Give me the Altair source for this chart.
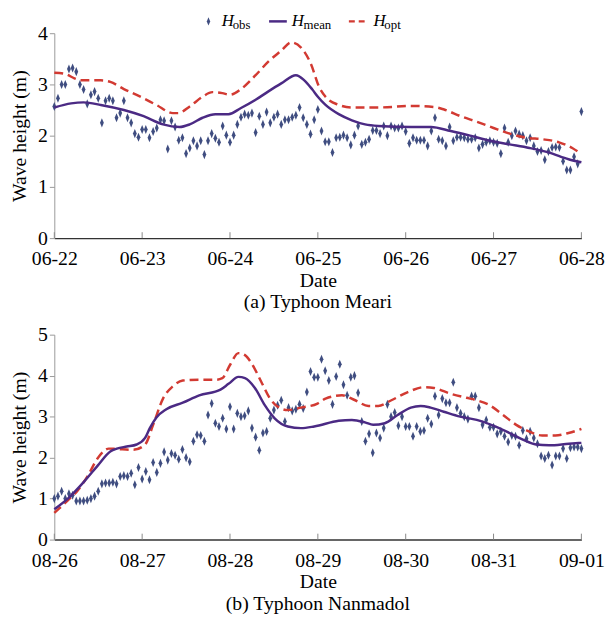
import altair as alt
import pandas as pd

FONT = "Liberation Serif"

labels_a = ["06-22", "06-23", "06-24", "06-25", "06-26", "06-27", "06-28"]
labels_b = ["08-26", "08-27", "08-28", "08-29", "08-30", "08-31", "09-01"]
tick_hours = [0, 24, 48, 72, 96, 120, 144]

# ---- (a) Typhoon Meari : hourly observations, hours 0..144 ----
meari_obs = [
    2.57, 2.73, 3.0, 3.0, 3.3, 3.32, 3.25, 3.0, 2.9, 2.62,
    2.8, 2.86, 2.73, 2.25, 2.68, 2.73, 2.68, 2.35, 2.44, 2.68,
    2.35, 2.25, 2.04, 1.97, 2.12, 2.12, 1.96, 2.08, 2.15, 2.31,
    2.29, 1.74, 2.29, 2.17, 1.91, 1.96, 1.65, 1.76, 1.9, 1.8,
    1.9, 1.63, 1.9, 2.04, 1.95, 1.87, 2.19, 2.01, 1.87, 2.01,
    2.22, 2.36, 2.42, 2.4, 2.44, 2.06, 2.38, 2.22, 2.46, 2.25,
    2.36, 2.42, 2.22, 2.31, 2.31, 2.36, 2.4, 2.55, 2.35, 2.22,
    2.03, 2.31,
    2.51, 2.09, 1.88, 1.88, 1.67, 1.96, 1.97, 2.01, 1.96, 1.82,
    2.01, 2.19, 1.83, 1.87, 1.93, 2.1, 2.1, 2.04, 2.19, 2.0,
    2.19, 2.15, 2.15, 2.19, 2.08, 1.85, 1.96, 1.91, 1.91, 1.91,
    1.8, 2.09, 2.35, 1.93, 1.9, 1.8, 2.17, 1.9, 1.97, 1.97,
    1.96, 1.93, 1.93, 1.96, 1.76, 1.83, 1.87, 1.9, 1.87, 1.85,
    1.65, 2.15, 1.87, 2.0, 2.09, 2.03, 2.0, 1.9, 1.96, 1.8,
    1.69, 1.71, 1.53, 1.69, 1.77, 1.78, 1.77, 1.5, 1.33, 1.33,
    1.59, 1.45, 2.47,
]
meari_mean_h = [0, 4.6, 8, 12.7, 19, 24.4, 29.7, 34.2, 37, 40.5, 44, 47.6, 51, 55,
                58.4, 62, 66, 68.3, 70.5, 72, 74.1, 77.7, 81.3, 84.9, 88.5, 97.5,
                102.9, 108.3, 113.6, 119, 124.4, 129.8, 135.2, 140.5, 144]
meari_mean_v = [2.55, 2.63, 2.65, 2.6, 2.5, 2.38, 2.22, 2.17, 2.22, 2.35, 2.42, 2.42,
                2.54, 2.7, 2.86, 3.02, 3.18, 3.08, 2.9, 2.76, 2.6, 2.42, 2.3, 2.22,
                2.19, 2.17, 2.17, 2.09, 2.0, 1.9, 1.83, 1.76, 1.67, 1.54, 1.48]
meari_opt_h = [0, 2.8, 5.5, 7.3, 12.7, 15.3, 19, 23.5, 27.9, 32.4, 33.8, 37, 40.5,
               43.2, 45.9, 48, 51.2, 55, 58.4, 62, 64.7, 67.4, 70.1, 72.3, 74.1, 77.7,
               81.3, 88.5, 97.5, 103.8, 106.5, 111, 115.5, 120, 124.4, 128.9, 133.4,
               137.9, 141.5, 143]
meari_opt_v = [3.23, 3.21, 3.12, 3.08, 3.08, 3.05, 2.91, 2.76, 2.6, 2.44, 2.44, 2.57,
               2.76, 2.85, 2.83, 2.8, 2.92, 3.18, 3.44, 3.66, 3.82, 3.72, 3.4, 2.96,
               2.76, 2.6, 2.55, 2.55, 2.58, 2.56, 2.51, 2.38, 2.27, 2.15, 2.04, 1.96,
               1.93, 1.87, 1.76, 1.69]

# ---- (b) Typhoon Nanmadol ----
nanmadol_obs = [
    1.0, 1.06, 1.18, 1.0, 1.12, 1.08, 0.94, 0.94, 0.94, 0.96,
    1.0, 1.06, 1.18, 1.36, 1.38, 1.38, 1.4, 1.36, 1.54, 1.56,
    1.54, 1.62, 1.34, 1.76, 1.48, 1.66, 1.46, 1.88, 1.64, 1.86,
    2.14, 1.94, 2.1, 2.06, 1.96, 2.2, 2.0, 1.9, 2.4, 2.56,
    2.54, 2.4, 3.04, 3.32, 2.84, 2.76, 2.96, 2.7, 3.24, 2.7,
    3.08, 3.0, 3.02, 3.14, 2.72, 2.5, 2.18, 2.6, 2.64, 2.96,
    3.16, 3.28, 3.4, 2.88, 3.22, 3.14, 3.18, 3.3, 3.2, 3.6,
    4.1, 3.96,
    3.96, 4.4, 4.12, 3.88, 3.3, 3.98, 4.28, 3.78, 3.52, 3.96,
    4.0, 3.58, 2.88, 2.4, 2.58, 2.12, 2.6, 2.48, 2.72, 3.3,
    3.0, 3.1, 2.78, 3.0, 2.76, 2.76, 2.52, 2.76, 2.64, 2.66,
    2.96, 2.82, 3.5, 3.04, 3.44, 3.34, 3.34, 3.84, 3.22, 3.08,
    3.0, 2.94, 3.5, 3.5, 3.22, 2.8, 2.92, 2.74, 2.74, 2.58,
    2.64, 2.52, 2.38, 2.54, 2.52, 2.3, 2.66, 2.46, 2.64, 2.48,
    2.34, 2.04, 1.98, 2.06, 1.82, 2.04, 2.04, 2.22, 1.98, 2.24,
    2.26, 2.26, 2.22,
]
nanmadol_mean_h = [0, 3.7, 8.2, 11.8, 15.3, 17.1, 19.8, 22.5, 24.8, 26.1, 27.9, 30.6,
                   35.1, 39.6, 45.4, 47.6, 50.3, 52.1, 54.8, 57.5, 60.2, 63.8, 67.4, 71,
                   77.7, 81.3, 84.9, 87.1, 90.3, 93.8, 97.4, 100.1, 102.8, 106.4, 110.9,
                   115.4, 119.9, 124.4, 128, 131.6, 135.2, 140.6, 144]
nanmadol_mean_v = [0.74, 1.0, 1.42, 1.8, 2.15, 2.22, 2.27, 2.32, 2.48, 2.72, 2.98, 3.18,
                   3.34, 3.52, 3.66, 3.8, 3.97, 3.94, 3.7, 3.28, 2.96, 2.76, 2.72, 2.76,
                   2.9, 2.92, 2.86, 2.8, 2.84, 3.04, 3.22, 3.26, 3.22, 3.12, 3.0, 2.92,
                   2.78, 2.6, 2.44, 2.32, 2.3, 2.34, 2.36]
nanmadol_opt_h = [0, 3.7, 6.4, 9.1, 11.8, 14.9, 17.1, 21.6, 24.8, 27, 29.7, 32.4, 35.1,
                  39.6, 44.1, 45.9, 48, 50.3, 52.1, 53.9, 56.6, 58.8, 61.1, 63.8, 67.4,
                  71.9, 74.1, 78.6, 82.2, 85.8, 88.5, 92.1, 96.6, 101, 103.7, 108.2,
                  112.6, 115.4, 118.9, 122.6, 126.2, 129.7, 133.3, 136.9, 140.5, 144]
nanmadol_opt_v = [0.65, 0.96, 1.2, 1.55, 1.98, 2.22, 2.21, 2.19, 2.32, 2.8, 3.44, 3.74,
                  3.88, 3.9, 3.9, 3.94, 4.26, 4.55, 4.5, 4.3, 3.84, 3.46, 3.24, 3.16,
                  3.22, 3.32, 3.44, 3.52, 3.4, 3.26, 3.26, 3.4, 3.6, 3.72, 3.7, 3.56,
                  3.46, 3.4, 3.28, 3.04, 2.8, 2.64, 2.54, 2.54, 2.6, 2.7]

OBS_COLOR = "#3f4d80"
MEAN_COLOR = "#4b2a84"
OPT_COLOR = "#d23a32"
DIAMOND = "M0,-1L0.42,0L0,1L-0.42,0Z"

W, H = 535, 208


def label_expr(labels):
    expr = "''"
    for hr, lab in reversed(list(zip(tick_hours, labels))):
        expr = "datum.value == %d ? '%s' : (%s)" % (hr, lab, expr)
    return expr


def panel(obs, mh, mv, oh, ov, labels, ymax, caption, legend=False):
    obs_df = pd.DataFrame({"hour": list(range(len(obs))), "h": obs})
    mean_df = pd.DataFrame({"hour": mh, "h": mv})
    opt_df = pd.DataFrame({"hour": oh, "h": ov})
    tick_df = pd.DataFrame({"hour": tick_hours})

    xscale = alt.Scale(domain=[0, 144], nice=False, zero=False)
    yscale = alt.Scale(domain=[0, ymax], nice=False)
    xaxis = alt.Axis(values=tick_hours, labelExpr=label_expr(labels), title="Date",
                     tickSize=0, grid=False, domainColor="#333333", domainWidth=1.5,
                     labelPadding=11, titlePadding=2, labelFlush=False)
    yaxis = alt.Axis(values=list(range(ymax + 1)), title="Wave height (m)", format="d",
                     tickSize=5, tickColor="#999999", grid=False, domainColor="#999999",
                     labelPadding=2, titlePadding=8)

    x = alt.X("hour:Q", scale=xscale, axis=xaxis)
    y = alt.Y("h:Q", scale=yscale, axis=yaxis)

    pts = alt.Chart(obs_df).mark_point(shape=DIAMOND, filled=True, size=85,
                                       color=OBS_COLOR, opacity=1).encode(x=x, y=y)
    mean = alt.Chart(mean_df).mark_line(interpolate="monotone", strokeWidth=2.5,
                                        color=MEAN_COLOR).encode(x=x, y=y)
    opt = alt.Chart(opt_df).mark_line(interpolate="monotone", strokeWidth=2.5,
                                      strokeDash=[9, 5], color=OPT_COLOR).encode(x=x, y=y)
    ticks = alt.Chart(tick_df).mark_rule(color="#888888", strokeWidth=1).encode(
        x=x, y=alt.value(H), y2=alt.value(H - 6))

    layers = [pts, opt, mean, ticks]

    if legend:
        one = pd.DataFrame({"k": [0]})
        ly = -12
        layers += [
            alt.Chart(one).mark_point(shape=DIAMOND, filled=True, size=70, color=OBS_COLOR,
                                      opacity=1).encode(x=alt.value(156.5), y=alt.value(ly)),
            alt.Chart(one).mark_rule(color=MEAN_COLOR, strokeWidth=2.5).encode(
                x=alt.value(218), x2=alt.value(236), y=alt.value(ly)),
            alt.Chart(one).mark_rule(color=OPT_COLOR, strokeWidth=2.5, strokeDash=[6, 4]).encode(
                x=alt.value(299), x2=alt.value(315), y=alt.value(ly)),
        ]
        for hx, sx, sub in [(170, 181, "obs"), (241, 253, "mean"), (324, 335, "opt")]:
            layers.append(alt.Chart(one).mark_text(text="H", font=FONT, fontSize=17,
                                                   fontStyle="italic", align="left",
                                                   baseline="alphabetic", color="black").encode(
                x=alt.value(hx), y=alt.value(ly + 5)))
            layers.append(alt.Chart(one).mark_text(text=sub, font=FONT, fontSize=13,
                                                   align="left", baseline="alphabetic",
                                                   color="black").encode(
                x=alt.value(sx), y=alt.value(ly + 8)))

    return alt.layer(*layers).properties(
        width=W, height=H,
        title=alt.TitleParams(caption, orient="bottom", font=FONT, fontSize=20,
                              fontWeight="normal", color="black", offset=2, anchor="middle"),
    )


top = panel(meari_obs, meari_mean_h, meari_mean_v, meari_opt_h, meari_opt_v,
            labels_a, 4, "(a) Typhoon Meari", legend=True)
bottom = panel(nanmadol_obs, nanmadol_mean_h, nanmadol_mean_v, nanmadol_opt_h,
               nanmadol_opt_v, labels_b, 5, "(b) Typhoon Nanmadol")

chart = alt.vconcat(top, bottom, spacing=13).properties(
    padding={"left": 2, "top": 0, "right": 2, "bottom": 0},
    background="white",
).configure_view(stroke=None).configure_axis(
    labelFont=FONT, labelFontSize=20, labelColor="black",
    titleFont=FONT, titleFontSize=20, titleFontWeight="normal", titleColor="black",
)

chart.save("out.html", embed_options={"renderer": "svg", "actions": False})
